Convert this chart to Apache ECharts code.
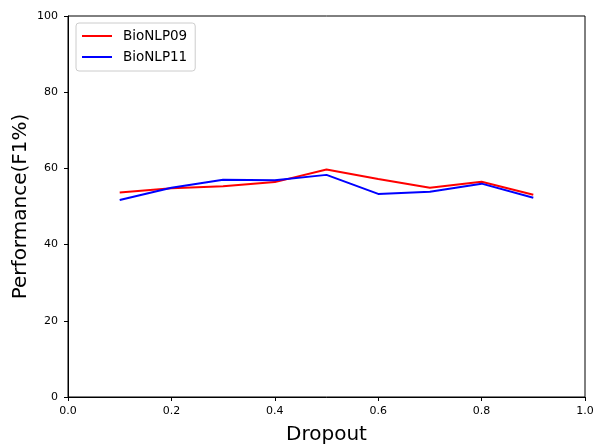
<!DOCTYPE html>
<html><head><meta charset="utf-8">
<script src="https://cdn.jsdelivr.net/npm/echarts@6/dist/echarts.min.js"></script>
<style>html,body{margin:0;padding:0;background:#fff}#c{width:600px;height:444px}</style>
</head><body><div id="c"></div>
<script>
const dropout = [0.1, 0.2, 0.3, 0.4, 0.5, 0.6, 0.7, 0.8, 0.9];
const bionlp09 = [53.7, 54.8, 55.3, 56.4, 59.7, 57.2, 54.9, 56.5, 53.1];
const bionlp11 = [51.7, 54.9, 57.0, 56.9, 58.3, 53.3, 53.9, 56.0, 52.3];
const xTicks = ['0.0','0.2','0.4','0.6','0.8','1.0'];
const F = 'DejaVu Sans';
const chart = echarts.init(document.getElementById('c'), null, {renderer:'canvas'});
const pairs = (ys) => dropout.map((x,i)=>[x, ys[i]]);
chart.setOption({
  animation:false,
  grid:{left:68,right:15,top:16,bottom:47,containLabel:false,outerBoundsMode:'none',show:true,borderColor:'#000',borderWidth:1,backgroundColor:'transparent'},
  legend:{
    orient:'vertical', left:76, top:23, padding:[6,8,7,6], itemGap:7,
    itemWidth:30, itemHeight:2, icon:'rect',
    borderColor:'#ccc', borderWidth:1, borderRadius:3, backgroundColor:'rgba(255,255,255,0.8)',
    textStyle:{fontFamily:F,fontSize:13.5,color:'#000',padding:[0,0,0,6]},
    data:['BioNLP09','BioNLP11']
  },
  xAxis:{type:'value',min:0,max:1,interval:0.2,name:'Dropout',nameLocation:'middle',nameGap:28,nameMoveOverlap:false,
    nameTextStyle:{fontFamily:F,fontSize:20,color:'#000'},
    axisLine:{show:true,onZero:false,lineStyle:{color:'#000'}},
    axisTick:{show:true,length:4,lineStyle:{color:'#000'}},
    axisLabel:{fontFamily:F,fontSize:11,color:'#000',margin:9,formatter:(v)=>xTicks[Math.round(v/0.2)]},
    splitLine:{show:false}},
  yAxis:{type:'value',min:0,max:100,interval:20,name:'Performance(F1%)',nameLocation:'middle',nameGap:37,nameMoveOverlap:false,
    nameTextStyle:{fontFamily:F,fontSize:20,color:'#000'},
    axisLine:{show:true,lineStyle:{color:'#000'}},
    axisTick:{show:true,length:4,lineStyle:{color:'#000'}},
    axisLabel:{fontFamily:F,fontSize:11,color:'#000',margin:10},
    splitLine:{show:false}},
  series:[
    {name:'BioNLP09',type:'line',data:pairs(bionlp09),showSymbol:false,symbol:'none',lineStyle:{color:'#ff0000',width:2},itemStyle:{color:'#ff0000'}},
    {name:'BioNLP11',type:'line',data:pairs(bionlp11),showSymbol:false,symbol:'none',lineStyle:{color:'#0000ff',width:2},itemStyle:{color:'#0000ff'}}
  ]
});
</script></body></html>
